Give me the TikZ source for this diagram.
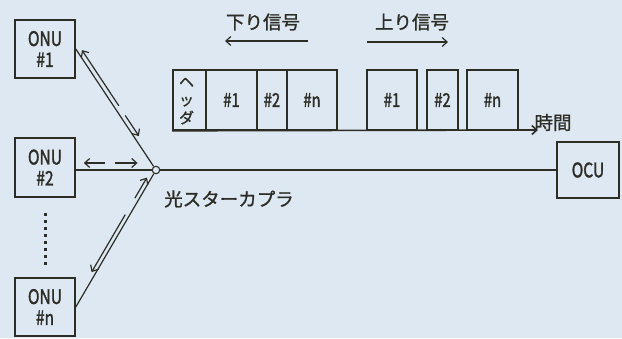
\documentclass[tikz,border=0pt]{standalone}
\usepackage{fontspec}
\setmainfont[FakeBold=1.2]{Noto Sans CJK JP}
\newfontfamily\cond[FakeStretch=0.78,FakeBold=1.5]{Noto Sans CJK JP}
\usetikzlibrary{arrows.meta,calc}
\definecolor{bg}{RGB}{221,232,242}
\definecolor{ink}{RGB}{45,45,38}
\begin{document}
\begin{tikzpicture}[x=1pt,y=1pt,
  box/.style={draw=ink,line width=1.6pt,minimum width=60pt,minimum height=58pt,inner sep=0pt,align=center,text=ink,font=\cond\fontsize{20}{21}\selectfont},
  frm/.style={draw=ink,line width=1.6pt,minimum height=60pt,inner sep=0pt,text=ink,font=\cond\fontsize{19}{20}\selectfont},
  ln/.style={draw=ink,line width=1.2pt},
  arr/.style={draw=ink,line width=1.2pt,-{Straight Barb[length=5pt,width=9pt]}},
  jp/.style={text=ink,font=\fontsize{18.5}{18}\selectfont,inner sep=0pt}]
\fill[bg] (0,0) rectangle (622,338);
\useasboundingbox (0,0) rectangle (622,338);
% ONU boxes
\node[box] (onu1) at (45,289) {ONU\\\#1};
\node[box,minimum height=59pt] (onu2) at (45,170.5) {ONU\\\#2};
\node[box] (onun) at (45,31) {ONU\\\#n};
\draw[ink,line width=3pt,dash pattern=on 3pt off 4pt] ($(onu2.south)+(0,-15)$) -- ($(onun.north)+(0,11)$);
% OCU
\node[box,minimum width=62pt,minimum height=56pt] (ocu) at (588,168) {OCU};
% coupler
\node[circle,draw=ink,line width=1.1pt,fill=bg,minimum size=7.5pt,inner sep=0pt] (c) at (156,168) {};
\node[jp] (cpl) at (229,139) {光スターカプラ};
\coordinate (o2) at (c -| onu2.east);
\draw[ln] (onu1.east) -- (c);
\draw[ln] (o2) -- (c);
\draw[ln] (onun.east) -- (c);
\draw[ln] (c) -- (ocu.west);
% ONU1 arrows
\draw[arr] ($(onu1.east)!0.49!(c)!4.5pt!90:(c)$) -- ($(onu1.east)!0.03!(c)!4.5pt!90:(c)$);
\draw[arr] ($(onu1.east)!0.57!(c)!4.5pt!90:(c)$) -- ($(onu1.east)!0.74!(c)!4.5pt!90:(c)$);
% ONU2 arrows
\draw[arr] ($(o2)!0.37!(c)!7pt!90:(c)$) -- ($(o2)!0.10!(c)!7pt!90:(c)$);
\draw[arr] ($(o2)!0.49!(c)!7pt!90:(c)$) -- ($(o2)!0.77!(c)!7pt!90:(c)$);
% ONUn arrows
\draw[arr] ($(onun.east)!0.78!(c)!4pt!90:(c)$) -- ($(onun.east)!0.93!(c)!4pt!90:(c)$);
\draw[arr] ($(onun.east)!0.66!(c)!4pt!90:(c)$) -- ($(onun.east)!0.24!(c)!4pt!90:(c)$);
% frames
\node[frm,minimum width=33pt] (hdr) at (189.5,238) {};
\node[text=ink,font=\fontsize{15}{18}\selectfont,align=center,inner sep=0pt] (hdrt) at (186.5,237) {ヘ\\ッ\\ダ};
\node[frm,minimum width=51pt] (d1) at (231.5,238) {\#1};
\node[frm,minimum width=30pt] (d2) at (272,238) {\#2};
\node[frm,minimum width=50pt] (dn) at (312,238) {\#n};
\node[frm,minimum width=50pt] (u1) at (392,238) {\#1};
\node[frm,minimum width=31pt] (u2) at (442.5,238) {\#2};
\node[frm,minimum width=51pt] (un) at (492.5,238) {\#n};
\coordinate (tend) at (538,208);
\draw[arr,line width=1.6pt] (hdr.south west) -- (tend);
\node[jp] (jikan) at (553,215.5) {時間};
% signal labels
\node[jp] (down) at (263,316) {下り信号};
\coordinate (da) at (308,297);
\coordinate (db) at (225,297);
\draw[arr] (da) -- (db);
\node[jp] (up) at (412,316) {上り信号};
\coordinate (ua) at (367,296);
\coordinate (ub) at (448,296);
\draw[arr] (ua) -- (ub);
\end{tikzpicture}
\end{document}
